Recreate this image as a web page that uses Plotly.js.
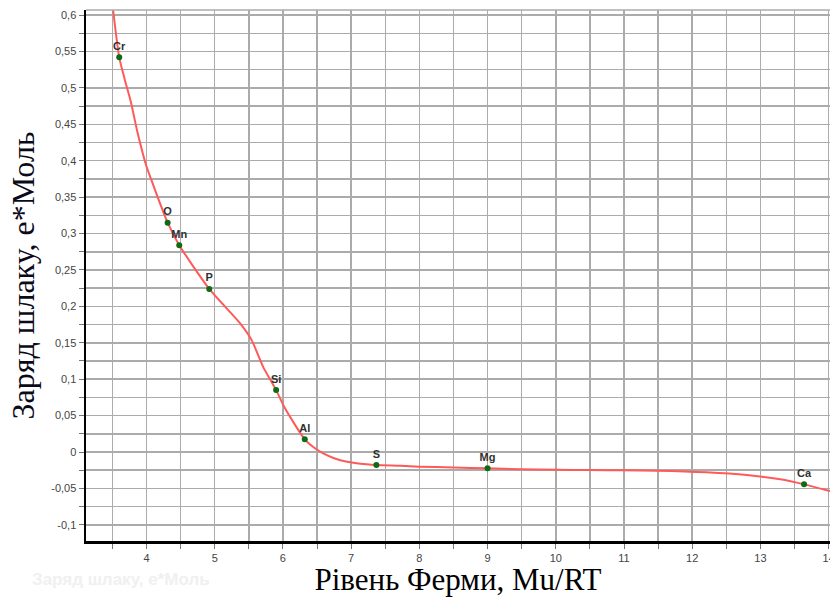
<!DOCTYPE html>
<html>
<head>
<meta charset="utf-8">
<script src="https://cdn.plot.ly/plotly-3.0.1.min.js"></script>
<style>html,body{margin:0;padding:0;background:#fff;}#chart{width:830px;height:597px;}</style>
</head>
<body>
<div id="chart"></div>
<script>
// Element points
const elemNames = ['Cr', 'O', 'Mn', 'P', 'Si', 'Al', 'S', 'Mg', 'Ca'];
const elemX = [3.60, 4.31, 4.48, 4.92, 5.90, 6.32, 7.37, 9.00, 13.64];
const elemY = [0.542, 0.315, 0.284, 0.224, 0.085, 0.0174, -0.0179, -0.0224, -0.0444];

// Curve samples
const curveX = [3.51, 3.60, 3.68, 3.77, 3.87, 4.00, 4.09, 4.18, 4.31, 4.48, 4.92, 5.37, 5.54, 5.71, 5.90, 6.03, 6.32, 6.45, 6.59, 6.75, 6.94, 7.23, 7.37, 7.72, 8.00, 8.50, 9.00, 9.48, 10.00, 10.50, 11.00, 11.48, 12.21, 12.80, 13.29, 13.64, 14.02];
const curveY = [0.607, 0.542, 0.512, 0.481, 0.438, 0.392, 0.369, 0.346, 0.315, 0.284, 0.224, 0.177, 0.154, 0.117, 0.085, 0.060, 0.0174, 0.0065, -0.0020, -0.0085, -0.0133, -0.0169, -0.0179, -0.0190, -0.0201, -0.0212, -0.0224, -0.0236, -0.0243, -0.0248, -0.0252, -0.0257, -0.0279, -0.0316, -0.0375, -0.0444, -0.0536];

// Tick labels
const xTickVals = [4, 5, 6, 7, 8, 9, 10, 11, 12, 13, 14];
const xTickText = ['4', '5', '6', '7', '8', '9', '10', '11', '12', '13', '14'];
const yTickVals = [-0.1, -0.05, 0, 0.05, 0.1, 0.15, 0.2, 0.25, 0.3, 0.35, 0.4, 0.45, 0.5, 0.55, 0.6];
const yTickText = ['-0,1', '-0,05', '0', '0,05', '0,1', '0,15', '0,2', '0,25', '0,3', '0,35', '0,4', '0,45', '0,5', '0,55', '0,6'];

const xTitle = 'Рівень Ферми, Mu/RT';
const yTitle = 'Заряд шлаку, е*Моль';

// Grid/tick positions: labelled ticks plus halfway unlabelled ones
function withHalves(vals, texts, lo) {
  const v = [], t = [];
  if (lo !== undefined) { v.push(lo); t.push(''); }
  for (let i = 0; i < vals.length; i++) {
    v.push(vals[i]); t.push(texts[i]);
    if (i < vals.length - 1) { v.push((vals[i] + vals[i + 1]) / 2); t.push(''); }
  }
  return [v, t];
}
const [xv, xt] = withHalves(xTickVals, xTickText, 3.5);
const [yv, yt] = withHalves(yTickVals, yTickText);

const gridColor = '#ababab';

const traces = [
  {
    x: curveX, y: curveY, type: 'scatter', mode: 'lines',
    line: { color: '#ff5a5a', width: 2, shape: 'spline', smoothing: 0.6 },
    hoverinfo: 'skip', cliponaxis: true
  },
  {
    x: elemX, y: elemY, text: elemNames, type: 'scatter', mode: 'markers+text',
    marker: { color: '#0f6a14', size: 6 },
    textposition: 'top center',
    textfont: { family: 'Liberation Sans, Arial, sans-serif', size: 11, color: '#303030', weight: 'bold' },
    cliponaxis: false
  }
];

const layout = {
  width: 830, height: 597,
  margin: { l: 86, r: 0, t: 10, b: 56, pad: 0 },
  paper_bgcolor: '#ffffff', plot_bgcolor: '#ffffff',
  showlegend: false,
  font: { family: 'Liberation Sans, Arial, sans-serif', size: 11, color: '#444' },
  xaxis: {
    range: [3.113, 14.02],
    tickmode: 'array', tickvals: xv, ticktext: xt,
    ticks: 'outside', ticklen: 5, tickcolor: '#777', tickwidth: 1,
    showgrid: true, gridcolor: gridColor, gridwidth: 1.5,
    zeroline: false,
    showline: true, linecolor: '#000', linewidth: 2.5,
    ticklabeloverflow: 'allow',
    tickfont: { family: 'Liberation Sans, Arial, sans-serif', size: 11, color: '#444' },
    title: { text: xTitle, font: { family: 'Liberation Serif, Times New Roman, serif', size: 31, color: '#000' }, standoff: 4 },
    automargin: false
  },
  yaxis: {
    range: [-0.1222, 0.607],
    tickmode: 'array', tickvals: yv, ticktext: yt,
    ticks: 'outside', ticklen: 5, tickcolor: '#777', tickwidth: 1,
    showgrid: true, gridcolor: gridColor, gridwidth: 1.5,
    zeroline: false,
    showline: true, linecolor: '#000', linewidth: 2.5,
    tickfont: { family: 'Liberation Sans, Arial, sans-serif', size: 11, color: '#444' },
    title: { text: yTitle, font: { family: 'Liberation Serif, Times New Roman, serif', size: 32, color: '#0a0a1a' }, standoff: 7 },
    automargin: false
  },
  shapes: [
    { type: 'line', xref: 'paper', yref: 'paper', x0: 0, x1: 1, y0: 1, y1: 1, line: { color: gridColor, width: 1.5 } }
  ],
  annotations: [
    { text: yTitle, xref: 'paper', yref: 'paper', x: -0.075, y: -0.073, xanchor: 'left', yanchor: 'middle', showarrow: false,
      font: { family: 'Liberation Sans, Arial, sans-serif', size: 17, color: '#f0f0f0', weight: 'bold' } }
  ]
};

Plotly.newPlot('chart', traces, layout, { displayModeBar: false, staticPlot: true });
</script>
</body>
</html>
